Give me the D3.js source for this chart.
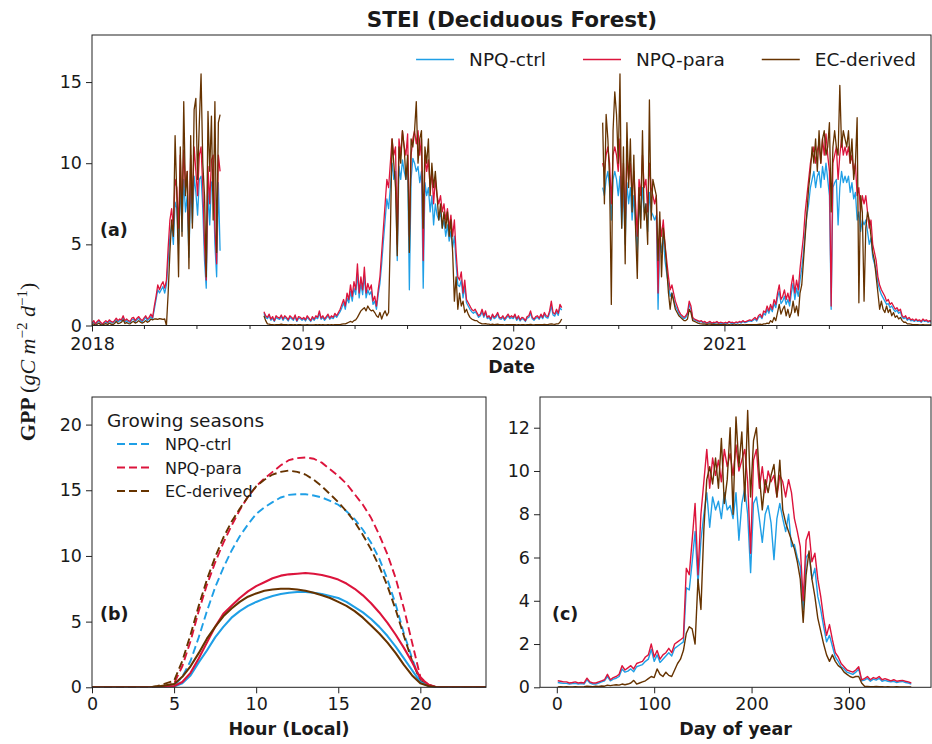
<!DOCTYPE html>
<html>
<head>
<meta charset="utf-8">
<script src="https://cdn.jsdelivr.net/npm/d3@7/dist/d3.min.js"></script>
<style>
  body { margin: 0; background: #fff; }
  svg text { font-family: "DejaVu Sans", sans-serif; fill: #1a1a1a; }
</style>
</head>
<body>
<svg id="chart" width="932" height="744"></svg>
<script>
// ---------------- data ----------------
const seriesNames = ["NPQ-ctrl", "NPQ-para", "EC-derived"];
const seriesColors = ["#1f9fe6", "#dc143c", "#663300"];

// Daily GPP, sampled every 3 days, in three continuous records
const stepDays = 3;
const segStarts = ["2018-01-01", "2018-10-26", "2020-06-04"];

const ctrlSegA = [
  0.1,0.22,0.05,0.18,0.28,0.15,0.05,0.15,0.22,0.15,
  0.28,0.18,0.15,0.22,0.35,0.22,0.3,0.28,0.5,0.22,
  0.3,0.22,0.18,0.35,0.4,0.22,0.35,0.45,0.3,0.22,
  0.35,0.5,0.3,0.4,0.55,0.4,1.0,1.6,2.2,2.0,
  2.2,2.4,2.0,2.5,4.0,5.5,6.2,5.0,7.6,7.2,
  5.0,8.8,5.8,9.0,7.0,8.0,4.2,8.8,6.3,9.2,
  8.2,6.8,9.0,9.2,7.2,4.0,2.3,8.4,6.2,8.8,
  9.0,5.0,3.0,8.8,4.6
];
const paraSegA = [
  0.15,0.3,0.1,0.25,0.35,0.2,0.1,0.2,0.3,0.2,
  0.35,0.25,0.2,0.3,0.45,0.3,0.4,0.35,0.6,0.3,
  0.4,0.3,0.25,0.45,0.5,0.3,0.45,0.55,0.4,0.3,
  0.45,0.6,0.4,0.5,0.7,0.5,1.2,1.8,2.5,2.2,
  2.5,2.7,2.3,2.8,4.8,6.5,7.2,6.0,9.0,8.5,
  6.0,10.5,7.0,10.8,8.5,9.5,5.0,10.5,7.5,11.0,
  9.5,8.0,10.5,11.0,8.5,5.0,2.8,9.8,7.5,10.2,
  10.5,6.0,3.8,10.5,9.5
];
const ecSegA = [
  0.05,0.1,0.0,0.08,0.15,0.05,0.02,0.08,0.12,0.05,
  0.15,0.08,0.05,0.12,0.25,0.12,0.15,0.2,0.35,0.12,
  0.18,0.12,0.1,0.2,0.25,0.15,0.2,0.3,0.2,0.15,
  0.2,0.3,0.2,0.25,0.4,0.35,0.4,0.4,0.38,0.42,
  0.4,0.38,0.4,0.0,2.0,4.5,6.5,5.5,11.7,8.0,
  3.0,11.0,5.5,13.8,8.0,9.5,3.5,11.7,6.0,13.3,
  14.0,9.0,12.5,15.5,10.0,8.0,3.0,13.2,9.5,12.9,
  6.5,13.8,4.5,12.5,13.0
];

const ctrlSegB = [
  0.75,0.5,0.42,0.6,0.32,0.45,0.25,0.5,0.42,0.38,0.55,0.32,0.5,0.42,0.28,0.5,0.42,0.32,0.55,0.25,0.45,0.42,0.32,
  0.42,0.28,0.5,0.38,0.25,0.45,0.32,0.5,0.42,0.75,0.38,0.5,0.32,0.45,0.6,0.38,0.5,0.42,0.62,0.5,0.68,
  0.85,1.1,1.4,1.0,1.7,1.4,2.1,1.5,2.3,1.9,3.2,1.7,2.6,1.9,3.1,1.7,2.2,1.9,2.1,1.3,1.5,1.0,
  1.9,2.6,3.8,5.2,6.5,7.8,7.2,8.5,10.0,9.0,
  9.5,4.0,9.8,9.0,10.2,9.5,9.0,10.0,2.2,9.0,10.3,10.0,9.5,9.8,8.8,9.5,2.3,8.8,8.0,8.5,7.0,8.0,6.2,7.5,6.8,
  6.5,7.0,6.0,6.5,5.5,6.2,5.2,5.8,4.8,5.5,3.8,2.5,2.4,2.8,1.7,2.4,1.4,1.2,1.0,0.85,0.75,0.85,
  0.7,0.5,0.6,0.85,0.5,0.78,0.42,0.5,0.32,0.6,0.42,0.5,0.7,0.42,0.38,0.5,0.32,0.45,0.6,0.42,0.5,
  0.42,0.6,0.32,0.5,0.28,0.42,0.38,0.25,0.45,0.5,0.75,0.42,0.32,0.45,0.5,0.38,0.6,0.42,0.68,0.5,0.45,0.75,1.2,0.65,0.58,0.85,0.62,1.1,0.95
];
const paraSegB = [
  0.85,0.6,0.5,0.7,0.4,0.55,0.3,0.6,0.5,0.45,0.65,0.4,0.6,0.5,0.35,0.6,0.5,0.4,0.65,0.3,0.55,0.5,0.4,
  0.5,0.35,0.6,0.45,0.3,0.55,0.4,0.6,0.5,0.9,0.45,0.6,0.4,0.55,0.7,0.45,0.6,0.5,0.75,0.6,0.8,
  1.0,1.3,1.6,1.2,2.0,1.6,2.5,1.8,2.7,2.2,3.8,2.0,3.0,2.2,3.6,2.0,2.6,2.2,2.5,1.5,1.8,1.2,
  2.2,3.0,4.5,6.0,7.5,9.0,8.5,10.0,11.5,10.5,
  11.0,5.0,11.5,10.5,12.0,11.0,10.5,11.8,5.5,10.5,11.5,12.0,11.2,12.0,10.5,11.5,4.0,10.5,9.5,10.2,8.5,9.5,7.5,9.0,8.0,
  7.5,8.0,7.0,7.5,6.5,7.2,6.0,6.8,5.5,6.5,4.5,3.0,2.8,3.3,2.0,2.8,1.6,1.4,1.2,1.0,0.9,1.0,
  0.8,0.6,0.7,1.0,0.6,0.9,0.5,0.6,0.4,0.7,0.5,0.6,0.8,0.5,0.45,0.6,0.4,0.55,0.7,0.5,0.6,
  0.5,0.7,0.4,0.6,0.35,0.5,0.45,0.3,0.55,0.6,0.9,0.5,0.4,0.55,0.6,0.45,0.7,0.5,0.8,0.6,0.55,0.9,1.5,0.8,0.7,1.0,0.75,1.3,1.1
];
const ecSegB = [
  0.6,0.3,0.1,0.08,0.05,0.06,0.04,0.05,0.06,0.05,0.08,0.05,0.06,0.05,0.04,0.06,0.05,0.04,0.06,0.03,0.05,0.05,0.04,
  0.04,0.03,0.05,0.04,0.03,0.04,0.03,0.05,0.04,0.06,0.04,0.05,0.03,0.04,0.05,0.04,0.05,0.04,0.06,0.05,0.06,
  0.06,0.08,0.1,0.1,0.15,0.2,0.25,0.2,0.3,0.35,0.5,0.7,0.9,1.0,1.1,0.9,1.2,1.0,0.9,0.95,0.8,0.6,
  0.5,0.8,0.4,0.7,0.9,0.6,0.8,5.5,11.5,10.0,
  8.5,4.3,11.0,10.0,12.0,11.0,9.0,10.5,4.5,11.5,11.0,12.0,13.8,10.0,11.5,12.0,6.0,11.0,10.0,11.5,8.0,10.0,8.5,9.5,8.0,
  6.5,7.5,6.0,7.0,6.0,7.0,5.5,6.5,4.5,1.5,3.0,1.0,2.0,1.2,1.5,0.8,1.0,0.7,0.5,0.4,0.35,0.3,
  0.3,0.2,0.15,0.1,0.1,0.12,0.08,0.08,0.06,0.08,0.06,0.07,0.08,0.05,0.05,0.06,0.04,0.05,0.06,0.05,0.05,
  0.05,0.06,0.04,0.05,0.04,0.05,0.05,0.04,0.05,0.05,0.07,0.05,0.04,0.05,0.06,0.05,0.06,0.05,0.07,0.06,0.05,0.08,0.1,0.08,0.07,0.1,0.1,0.2,0.4
];

const ctrlSegC = [
  8.5,8.0,9.0,9.5,8.5,6.5,9.0,9.5,9.0,8.0,
  9.2,6.0,8.5,5.0,8.8,7.5,8.5,6.5,8.0,6.2,
  4.5,7.5,6.5,8.5,7.0,7.5,5.8,8.2,7.0,6.8,
  6.5,6.8,1.0,5.5,4.5,5.5,4.0,3.2,2.5,1.8,
  2.0,1.6,1.2,1.0,0.75,0.6,0.5,0.42,0.5,0.7,
  1.3,1.0,0.42,0.35,0.3,0.25,0.2,
  0.25,0.15,0.2,0.12,0.15,0.2,0.12,0.15,0.14,0.2,0.12,0.15,0.14,0.12,
  0.15,0.12,0.2,0.14,0.15,0.12,0.18,0.14,0.2,0.15,0.25,0.18,0.2,0.25,0.28,0.25,
  0.32,0.4,0.28,0.5,0.58,0.42,0.75,0.65,1.0,0.75,1.1,0.85,1.35,1.1,1.7,2.1,1.35,1.5,
  1.8,1.3,1.6,1.2,2.0,2.6,1.6,2.3,1.8,2.8,3.5,4.5,5.8,6.8,
  7.5,8.5,9.0,9.5,8.5,9.2,9.5,8.5,9.8,9.0,10.0,9.0,8.0,1.0,8.5,8.8,9.0,6.2,8.5,9.5,8.8,9.2,
  8.8,9.2,8.2,8.8,7.8,8.2,6.5,7.0,5.8,6.5,6.2,6.5,5.8,5.0,5.4,4.2,3.8,3.4,2.6,2.2,
  1.9,1.7,1.5,1.3,1.35,1.1,1.2,1.0,0.85,0.95,0.75,0.85,0.5,0.42,0.5,0.32,0.42,0.28,0.32,0.25,0.32,0.25,0.28,0.2,0.32,0.25,0.28,0.2,0.25,0.2,0.25
];
const paraSegC = [
  10.0,9.5,10.5,11.0,10.0,7.5,10.5,11.0,10.5,9.5,
  11.5,7.0,10.0,6.0,10.5,9.0,10.0,8.0,9.5,7.5,
  5.5,9.0,8.0,10.5,8.5,9.0,7.0,10.0,8.5,8.0,
  7.5,8.0,2.0,6.5,5.5,6.5,5.0,4.0,3.0,2.2,
  2.5,2.0,1.5,1.2,0.9,0.7,0.6,0.5,0.6,0.8,
  1.5,1.2,0.5,0.4,0.35,0.3,0.25,
  0.3,0.2,0.25,0.15,0.2,0.25,0.15,0.2,0.18,0.25,0.15,0.2,0.18,0.15,
  0.2,0.15,0.25,0.18,0.2,0.15,0.22,0.18,0.25,0.2,0.3,0.22,0.25,0.3,0.35,0.3,
  0.4,0.5,0.35,0.6,0.7,0.5,0.9,0.8,1.2,0.9,1.3,1.0,1.6,1.3,2.0,2.5,1.6,1.8,
  2.2,1.6,2.0,1.5,2.5,3.1,2.0,2.8,2.2,3.5,4.5,5.5,7.0,8.0,
  9.0,10.0,10.5,11.0,10.0,10.8,11.2,10.0,11.5,10.5,11.8,10.5,9.5,1.2,10.0,10.5,11.0,9.0,10.5,11.5,10.5,11.0,
  10.5,11.0,10.0,10.5,9.5,10.0,8.0,8.5,7.0,8.0,7.5,8.0,7.0,6.0,6.5,5.0,4.5,4.0,3.0,2.5,
  2.2,2.0,1.8,1.5,1.6,1.3,1.4,1.2,1.0,1.1,0.9,1.0,0.6,0.5,0.6,0.4,0.5,0.35,0.4,0.3,0.4,0.3,0.35,0.25,0.4,0.3,0.35,0.25,0.3,0.25,0.3
];
const ecSegC = [
  12.5,7.5,13.0,11.5,9.0,1.3,12.0,14.4,13.0,10.0,
  15.5,6.0,11.0,3.8,12.5,8.5,11.5,7.0,10.5,6.0,
  2.9,8.5,6.0,12.0,6.5,7.5,5.0,13.9,6.5,9.0,
  8.5,8.0,4.0,7.0,3.0,6.0,5.0,3.5,2.0,1.0,
  2.0,1.5,1.0,0.8,0.6,0.5,0.4,0.3,0.3,0.4,
  1.0,0.8,0.3,0.25,0.2,0.15,0.12,
  0.1,0.08,0.1,0.06,0.08,0.1,0.05,0.08,0.06,0.08,0.05,0.06,0.05,0.05,
  0.05,0.04,0.05,0.04,0.05,0.04,0.05,0.04,0.05,0.04,0.05,0.04,0.05,0.05,0.06,0.05,
  0.05,0.06,0.05,0.07,0.08,0.06,0.1,0.1,0.15,0.12,0.3,0.2,0.5,0.3,0.8,1.3,0.7,1.0,
  1.2,0.6,1.0,0.5,0.8,1.5,0.8,1.2,0.6,2.0,2.5,4.0,5.5,7.0,
  8.5,9.5,11.0,10.0,11.5,9.5,12.0,10.0,11.5,12.0,10.5,11.0,12.5,7.0,11.0,12.0,11.0,10.5,14.8,11.0,12.0,11.5,
  11.0,12.0,10.0,11.5,9.0,10.0,12.8,1.4,8.0,7.0,1.5,6.0,7.0,6.5,5.5,4.5,4.0,3.0,2.0,1.0,
  1.5,1.0,0.8,1.2,0.8,1.0,0.6,0.8,0.5,0.6,0.4,0.5,0.3,0.2,0.2,0.1,0.1,0.08,0.06,0.05,0.05,0.05,0.04,0.04,0.05,0.04,0.04,0.03,0.04,0.03,0.03
];

// Mean diurnal cycle, half-hourly (hour = index / 2); growing seasons dashed, all days solid
const hourStep = 0.5;
const ctrlGrowDiurnal = [
  0,0,0,0,0,0,0,0,
  0,0.05,0.1,0.8,2.0,3.8,5.8,7.6,9.1,10.4,
  11.5,12.4,13.2,13.7,14.1,14.45,14.65,14.7,14.7,14.6,
  14.45,14.2,13.9,13.4,12.8,12.0,11.0,9.8,8.2,6.3,
  4.1,2.2,0.5,0.1,0,
  0,0,0,0,0,0
];
const paraGrowDiurnal = [
  0,0,0,0,0,0,0,0,
  0,0.1,0.3,1.6,3.5,5.8,7.8,9.5,11.0,12.3,
  13.5,14.5,15.3,15.9,16.4,16.9,17.3,17.45,17.5,17.4,
  17.1,16.6,16.1,15.5,14.7,13.9,12.9,11.6,10.1,8.3,
  6.0,3.4,0.8,0.15,0,
  0,0,0,0,0,0
];
const ecGrowDiurnal = [
  0,0,0,0,0,0,0,0,
  0.1,0.3,0.5,2.0,4.0,6.2,8.2,9.9,11.4,12.6,
  13.6,14.5,15.3,15.8,16.2,16.4,16.5,16.4,16.2,15.8,
  15.3,14.7,14.1,13.4,12.6,11.6,10.5,9.2,7.7,5.9,
  3.9,2.0,0.5,0.2,0,
  0,0,0,0,0,0
];
const ctrlAllDiurnal = [
  0,0,0,0,0,0,0,0,
  0,0.02,0.05,0.3,0.9,1.9,2.8,3.8,4.6,5.3,
  5.8,6.2,6.5,6.75,6.95,7.1,7.2,7.25,7.25,7.2,
  7.1,6.95,6.8,6.5,6.1,5.7,5.2,4.6,3.9,3.1,
  2.2,1.3,0.4,0.1,0,
  0,0,0,0,0,0
];
const paraAllDiurnal = [
  0,0,0,0,0,0,0,0,
  0,0.05,0.1,0.4,1.1,2.2,3.4,4.6,5.6,6.2,
  6.8,7.3,7.7,8.0,8.3,8.5,8.6,8.65,8.7,8.65,
  8.55,8.4,8.2,7.9,7.5,7.0,6.4,5.7,4.9,4.0,
  3.0,1.9,0.7,0.2,0,
  0,0,0,0,0,0
];
const ecAllDiurnal = [
  0,0,0,0,0,0,0,0,
  0.05,0.15,0.25,0.8,1.6,2.6,3.7,4.6,5.4,6.0,
  6.5,6.9,7.15,7.35,7.45,7.5,7.5,7.45,7.35,7.2,
  7.0,6.8,6.5,6.2,5.8,5.3,4.7,4.1,3.4,2.6,
  1.7,0.9,0.3,0.1,0,
  0,0,0,0,0,0
];

// Multi-year mean by day of year, every 3rd day starting at DOY 1
const doyStart = 1;
const doyStep = 3;
const ctrlDoy = [
  0.22,0.2,0.18,0.18,0.15,0.17,0.18,0.15,0.17,0.15,
  0.35,0.2,0.15,0.15,0.2,0.25,0.3,0.5,0.3,0.38,
  0.42,0.5,0.85,0.7,0.75,0.85,0.72,0.95,1.0,1.05,
  1.2,1.3,1.75,1.2,1.5,1.15,1.3,1.45,1.6,1.45,
  1.8,1.9,2.0,2.1,4.6,4.5,5.8,7.2,4.8,6.8,
  8.0,9.0,7.4,8.8,8.2,8.6,7.8,9.0,8.2,8.4,
  7.8,9.0,6.8,8.5,9.2,8.0,5.3,8.5,8.8,7.8,
  6.7,8.0,8.4,7.6,5.9,7.8,8.5,7.8,7.2,8.0,
  6.5,6.6,6.0,5.6,3.6,6.0,6.2,5.0,5.5,4.2,
  3.6,2.8,2.1,2.4,1.9,1.4,1.2,0.95,0.85,0.7,
  0.65,0.6,0.7,0.85,0.3,0.33,0.42,0.28,0.38,0.33,
  0.42,0.28,0.32,0.28,0.25,0.28,0.22,0.25,0.27,0.22,0.2,0.15
];
const paraDoy = [
  0.3,0.28,0.25,0.25,0.2,0.22,0.25,0.2,0.22,0.2,
  0.42,0.25,0.2,0.2,0.25,0.3,0.35,0.6,0.35,0.45,
  0.5,0.6,1.0,0.8,0.9,1.0,0.85,1.1,1.15,1.2,
  1.4,1.5,2.0,1.4,1.7,1.3,1.5,1.6,1.8,1.6,
  2.0,2.1,2.2,2.3,5.5,5.2,6.8,8.5,5.2,8.0,
  9.5,11.0,9.2,10.6,9.8,10.5,9.5,11.0,10.2,10.8,
  9.8,11.2,10.0,10.5,11.0,9.5,6.2,10.5,11.0,9.2,
  10.2,9.0,10.0,9.5,9.8,8.8,9.8,9.5,8.8,9.6,
  9.0,7.8,7.2,6.5,4.0,6.8,7.2,5.8,6.2,5.0,
  4.2,3.2,2.4,2.9,2.2,1.6,1.4,1.1,0.95,0.8,
  0.75,0.7,0.8,0.95,0.35,0.4,0.5,0.35,0.45,0.4,
  0.5,0.35,0.4,0.35,0.3,0.35,0.28,0.3,0.32,0.28,0.25,0.2
];
const ecDoy = [
  0.02,0.03,0.02,0.03,0.02,0.02,0.03,0.02,0.02,0.03,
  0.05,0.04,0.03,0.05,0.04,0.06,0.05,0.1,0.08,0.1,
  0.12,0.1,0.15,0.12,0.15,0.2,0.32,0.15,0.2,0.25,
  0.3,0.4,0.5,0.45,0.85,0.6,0.5,0.7,0.55,0.5,
  0.8,1.1,1.3,1.7,2.5,2.8,2.7,2.0,5.0,3.6,
  7.3,9.6,10.2,9.4,10.6,9.2,11.5,8.5,9.6,12.0,
  8.0,12.5,10.2,11.8,8.6,12.8,8.8,11.4,12.0,9.8,
  8.2,9.6,9.0,9.8,10.3,8.8,10.5,8.2,7.6,7.2,
  6.8,6.4,5.8,5.0,3.0,5.2,6.3,5.0,4.2,3.2,
  2.6,2.0,1.5,1.2,1.5,1.2,1.0,0.9,0.7,0.6,
  0.5,0.45,0.5,0.5,0.2,0.05,0.04,0.03,0.03,0.04,
  0.03,0.03,0.02,0.03,0.02,0.02,0.03,0.02,0.02,0.02,0.02,0.02
];

// Tick values
const yearTicks = ["2018-01-01", "2019-01-01", "2020-01-01", "2021-01-01"];
const gppTicksA = [0, 5, 10, 15];
const hourTicks = [0, 5, 10, 15, 20];
const gppTicksB = [0, 5, 10, 15, 20];
const doyTicks = [0, 100, 200, 300];
const gppTicksC = [0, 2, 4, 6, 8, 10, 12];

// ---------------- drawing ----------------
const svg = d3.select("#chart");
const parseDay = s => new Date(s + "T00:00:00Z");
const tickFont = 17.5;

const boxA = { x0: 92, x1: 931, y0: 35, y1: 325.5 };
const boxB = { x0: 92, x1: 486, y0: 397, y1: 687.3 };
const boxC = { x0: 540, x1: 931, y0: 397, y1: 687.3 };

function clipFor(id, b) {
  svg.append("clipPath").attr("id", id)
    .append("rect").attr("x", b.x0).attr("y", b.y0)
    .attr("width", b.x1 - b.x0).attr("height", b.y1 - b.y0);
}
clipFor("clipA", boxA); clipFor("clipB", boxB); clipFor("clipC", boxC);

function styleAxis(g) {
  g.selectAll(".domain").remove();
  g.selectAll(".tick line").attr("stroke", "#222").attr("stroke-width", 1);
  g.selectAll(".tick text").attr("font-size", tickFont).attr("fill", "#1a1a1a")
    .attr("font-family", "DejaVu Sans, sans-serif");
}
function frame(b) {
  svg.append("rect").attr("x", b.x0).attr("y", b.y0)
    .attr("width", b.x1 - b.x0).attr("height", b.y1 - b.y0)
    .attr("fill", "none").attr("stroke", "#222").attr("stroke-width", 1);
}

// ----- panel (a): daily time series -----
const xA = d3.scaleUtc()
  .domain([parseDay("2018-01-01"), parseDay("2021-12-25")])
  .range([boxA.x0, boxA.x1]);
const yA = d3.scaleLinear().domain([0, 17.9]).range([boxA.y1, boxA.y0]);

const segments = [
  { start: segStarts[0], vals: [ctrlSegA, paraSegA, ecSegA] },
  { start: segStarts[1], vals: [ctrlSegB, paraSegB, ecSegB] },
  { start: segStarts[2], vals: [ctrlSegC, paraSegC, ecSegC] }
];
const lineA = d3.line().x(d => xA(d.t)).y(d => yA(d.v));
const gA = svg.append("g").attr("clip-path", "url(#clipA)");
[0, 1, 2].forEach(k => {
  segments.forEach(seg => {
    const t0 = parseDay(seg.start);
    const pts = seg.vals[k].map((v, i) => ({ t: d3.utcDay.offset(t0, i * stepDays), v }));
    gA.append("path").datum(pts).attr("d", lineA)
      .attr("fill", "none").attr("stroke", seriesColors[k])
      .attr("stroke-width", 1.3).attr("stroke-linejoin", "round");
  });
});

// minor ticks every quarter
const quarterTicks = d3.utcMonth.every(3).range(parseDay("2018-01-01"), parseDay("2021-12-31"))
  .filter(d => d.getUTCMonth() !== 0);
svg.append("g").attr("transform", `translate(0,${boxA.y1})`)
  .call(d3.axisBottom(xA).tickValues(quarterTicks).tickSize(3.5).tickFormat(""))
  .call(styleAxis);
svg.append("g").attr("transform", `translate(0,${boxA.y1})`)
  .call(d3.axisBottom(xA).tickValues(yearTicks.map(parseDay))
    .tickFormat(d3.utcFormat("%Y")).tickSize(6).tickPadding(6))
  .call(styleAxis);
svg.append("g").attr("transform", `translate(${boxA.x0},0)`)
  .call(d3.axisLeft(yA).tickValues(gppTicksA).tickSize(6).tickPadding(4))
  .call(styleAxis);
frame(boxA);

// ----- panel (b): diurnal cycle -----
const xB = d3.scaleLinear().domain([0, 24]).range([boxB.x0, boxB.x1]);
const yB = d3.scaleLinear().domain([0, 22.1]).range([boxB.y1, boxB.y0]);
const lineB = d3.line().x((d, i) => xB(i * hourStep)).y(d => yB(d));
const gB = svg.append("g").attr("clip-path", "url(#clipB)");
const growSets = [ctrlGrowDiurnal, paraGrowDiurnal, ecGrowDiurnal];
const allSets = [ctrlAllDiurnal, paraAllDiurnal, ecAllDiurnal];
growSets.forEach((arr, k) => {
  gB.append("path").datum(arr).attr("d", lineB).attr("fill", "none")
    .attr("stroke", seriesColors[k]).attr("stroke-width", 1.9)
    .attr("stroke-dasharray", "8,4");
});
allSets.forEach((arr, k) => {
  gB.append("path").datum(arr).attr("d", lineB).attr("fill", "none")
    .attr("stroke", seriesColors[k]).attr("stroke-width", 2.1)
    .attr("stroke-linejoin", "round");
});
svg.append("g").attr("transform", `translate(0,${boxB.y1})`)
  .call(d3.axisBottom(xB).tickValues(hourTicks).tickSize(6).tickPadding(4))
  .call(styleAxis);
svg.append("g").attr("transform", `translate(${boxB.x0},0)`)
  .call(d3.axisLeft(yB).tickValues(gppTicksB).tickSize(6).tickPadding(4))
  .call(styleAxis);
frame(boxB);

// ----- panel (c): day-of-year climatology -----
const xC = d3.scaleLinear().domain([-17.25, 384.25]).range([boxC.x0, boxC.x1]);
const yC = d3.scaleLinear().domain([0, 13.42]).range([boxC.y1, boxC.y0]);
const lineC = d3.line().x((d, i) => xC(doyStart + i * doyStep)).y(d => yC(d));
const gC = svg.append("g").attr("clip-path", "url(#clipC)");
[ctrlDoy, paraDoy, ecDoy].forEach((arr, k) => {
  gC.append("path").datum(arr).attr("d", lineC).attr("fill", "none")
    .attr("stroke", seriesColors[k]).attr("stroke-width", 1.4)
    .attr("stroke-linejoin", "round");
});
svg.append("g").attr("transform", `translate(0,${boxC.y1})`)
  .call(d3.axisBottom(xC).tickValues(doyTicks).tickSize(6).tickPadding(4))
  .call(styleAxis);
svg.append("g").attr("transform", `translate(${boxC.x0},0)`)
  .call(d3.axisLeft(yC).tickValues(gppTicksC).tickSize(6).tickPadding(4))
  .call(styleAxis);
frame(boxC);

// ----- titles, labels -----
svg.append("text").attr("x", 512).attr("y", 27).attr("text-anchor", "middle")
  .attr("font-size", 21.5).attr("font-weight", "bold").text("STEI (Deciduous Forest)");

const axisLabels = [
  { x: (boxA.x0 + boxA.x1) / 2, y: 373, t: "Date" },
  { x: (boxB.x0 + boxB.x1) / 2, y: 735, t: "Hour (Local)" },
  { x: (boxC.x0 + boxC.x1) / 2, y: 735, t: "Day of year" }
];
axisLabels.forEach(l => svg.append("text").attr("x", l.x).attr("y", l.y)
  .attr("text-anchor", "middle").attr("font-size", 17.5).attr("font-weight", "bold").text(l.t));

const panelTags = [
  { x: 100, y: 236, t: "(a)" },
  { x: 100, y: 620, t: "(b)" },
  { x: 552, y: 620, t: "(c)" }
];
panelTags.forEach(l => svg.append("text").attr("x", l.x).attr("y", l.y)
  .attr("font-size", 17.5).attr("font-weight", "bold").text(l.t));

// shared y label with math-style units
const serif = '"Liberation Serif", "DejaVu Serif", serif';
const yl = svg.append("text")
  .attr("transform", "translate(35,362) rotate(-90)")
  .attr("text-anchor", "middle")
  .style("font-family", serif)
  .attr("font-size", 22);
yl.append("tspan").style("font-family", serif).attr("font-weight", "bold").text("GPP ");
yl.append("tspan").style("font-family", serif).text("(");
yl.append("tspan").style("font-family", serif).attr("font-style", "italic").text("gC m");
yl.append("tspan").style("font-family", serif).attr("font-size", 15).attr("dy", -8).text("\u22122");
yl.append("tspan").style("font-family", serif).attr("font-style", "italic").attr("dy", 8).text(" d");
yl.append("tspan").style("font-family", serif).attr("font-size", 15).attr("dy", -8).text("\u22121");
yl.append("tspan").style("font-family", serif).attr("dy", 8).text(")");

// ----- legend (a): one row, anchored at right -----
const legFont = 18.5, handleLen = 38, handlePad = 15, colGap = 37;
const legA = svg.append("g");
const widths = seriesNames.map(n => {
  const t = legA.append("text").attr("font-size", legFont).text(n);
  const w = t.node().getComputedTextLength(); t.remove(); return w;
});
const totalW = d3.sum(widths) + 3 * (handleLen + handlePad) + 2 * colGap;
let lx = 916 - totalW;
seriesNames.forEach((n, k) => {
  legA.append("line").attr("x1", lx).attr("x2", lx + handleLen).attr("y1", 59.5).attr("y2", 59.5)
    .attr("stroke", seriesColors[k]).attr("stroke-width", 1.5);
  legA.append("text").attr("x", lx + handleLen + handlePad).attr("y", 66)
    .attr("font-size", legFont).text(n);
  lx += handleLen + handlePad + widths[k] + colGap;
});

// ----- legend (b): growing-season entries -----
const legB = svg.append("g");
legB.append("text").attr("x", 107).attr("y", 427).attr("font-size", 18.5).text("Growing seasons");
seriesNames.forEach((n, k) => {
  const y = 444 + k * 23.5;
  legB.append("line").attr("x1", 117).attr("x2", 149).attr("y1", y).attr("y2", y)
    .attr("stroke", seriesColors[k]).attr("stroke-width", 1.9).attr("stroke-dasharray", "8,4");
  legB.append("text").attr("x", 165).attr("y", y + 6).attr("font-size", 16).text(n);
});
</script>
</body>
</html>
